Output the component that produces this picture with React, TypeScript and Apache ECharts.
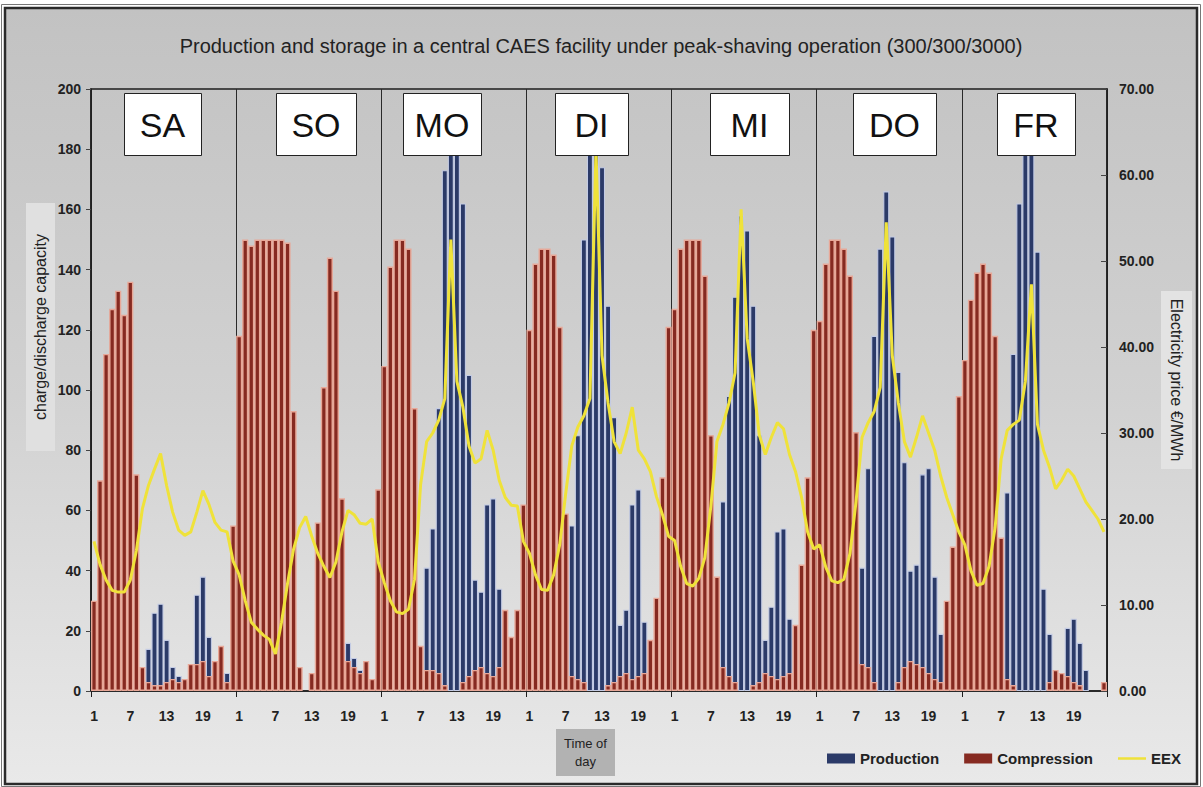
import React, { useEffect, useRef } from "react";
import * as echarts from "echarts";

// ---------- DATA ----------
const days = ["SA", "SO", "MO", "DI", "MI", "DO", "FR"];
const hourLabels = ["1","2","3","4","5","6","7","8","9","10","11","12","13","14","15","16","17","18","19","20","21","22","23","24"];

// Production (charge/discharge capacity units), hourly per day
const productionSA = [0,0,0,0,0,0,0,0,0,14,26,29,17,8,5,3,0,32,38,18,0,0,6,0];
const productionSO = [0,0,0,0,0,0,0,0,0,0,0,0,0,0,0,0,0,0,16,11,7,0,3,0];
const productionMO = [0,0,0,0,0,0,0,41,54,94,173,192,186,162,105,37,33,62,64,34,0,0,0,0];
const productionDI = [0,0,0,0,0,0,0,55,85,150,188,193,174,128,91,22,27,62,67,23,0,0,0,0];
const productionMI = [0,0,0,0,0,0,0,0,63,98,131,158,153,128,85,17,28,53,54,24,0,0,0,0];
const productionDO = [0,0,0,0,0,0,0,41,74,118,147,166,151,106,76,40,42,72,74,38,19,0,0,0];
const productionFR = [0,0,0,0,0,0,0,66,112,162,190,188,146,34,19,0,0,21,24,16,7,0,0,0];

// Compression
const compressionSA = [30,70,112,127,133,125,136,72,8,3,2,2,3,4,3,4,9,9,10,5,10,15,3,55];
const compressionSO = [118,150,148,150,150,150,150,150,149,93,8,0,6,56,101,144,133,64,10,8,6,10,4,67];
const compressionMO = [108,141,150,150,147,94,15,7,7,6,2,0,0,3,5,7,8,6,5,8,27,18,27,62];
const compressionDI = [120,142,147,147,145,121,59,5,4,3,0,0,0,2,3,5,6,4,5,6,17,31,71,121];
const compressionMI = [127,147,150,150,150,138,85,38,8,5,3,0,0,2,3,6,5,4,5,6,22,42,71,120];
const compressionDO = [123,142,150,150,147,138,86,9,8,3,0,0,0,3,8,10,9,8,6,4,3,30,48,98];
const compressionFR = [110,130,139,142,139,118,51,4,2,0,0,0,0,0,3,7,6,5,3,2,0,0,0,3];

// EEX electricity price (EUR/MWh)
const eexSA = [17.4,14.7,12.9,11.7,11.5,11.5,12.9,16.3,21.2,23.9,25.8,27.6,23.9,20.8,18.7,18.1,18.5,20.8,23.3,21.7,19.6,18.7,18.5,15.1];
const eexSO = [13.5,10.5,8,7.2,6.5,6,4.3,8,12.5,16.5,19,20.3,18,16,14.5,13.2,15,18.5,21,20.5,19.5,19.4,20,15];
const eexMO = [12.6,10.5,9.2,9,9.5,13,24,29,30,31.5,34,52.5,36,33,28.5,26.5,27,30.3,28,24.5,22.5,21.6,21.5,17.4];
const eexDI = [16,13.5,11.8,11.7,13.5,17,23,28.5,30.7,32,34,63,39,33.5,29,27.6,30,33,28,27,25.5,22.6,20.5,18];
const eexMI = [17.5,14.5,12.5,12.2,13.1,15.5,21.5,29,31,33.5,37,56,41,36,29.8,27.5,29.5,31.2,30.5,27.5,25.5,22.5,18.5,16.5];
const eexDO = [17,14.4,12.8,12.6,13,16,22,29.5,31.2,32.5,35.3,54.5,39,33.5,29,27.2,29.5,32,30,28,25,22.5,20.5,18.5];
const eexFR = [17,14,12.3,12.5,14.5,19,27,30.3,31,31.5,36,47.3,31,28,26,23.5,24.5,25.8,25,23.5,22,21,20,18.5];

const leftTicks = { min: 0, max: 200, interval: 20 };
const rightTicks = { min: 0, max: 70, interval: 10 };

const production = [...productionSA, ...productionSO, ...productionMO, ...productionDI, ...productionMI, ...productionDO, ...productionFR];
const compression = [...compressionSA, ...compressionSO, ...compressionMO, ...compressionDI, ...compressionMI, ...compressionDO, ...compressionFR];
const eex = [...eexSA, ...eexSO, ...eexMO, ...eexDI, ...eexMI, ...eexDO, ...eexFR];
const categories = days.flatMap((d) => hourLabels.map((h) => d + "-" + h));

// ---------- LAYOUT ----------
const FONT = "'Liberation Sans', Arial, Helvetica, sans-serif";
const dayBoxes = [
  { x: 124, w: 77 },
  { x: 276, w: 80 },
  { x: 403, w: 78 },
  { x: 555, w: 73 },
  { x: 710, w: 79 },
  { x: 853, w: 83 },
  { x: 997, w: 78 },
];

export default function App() {
  const ref = useRef<HTMLDivElement>(null);

  useEffect(() => {
    if (!ref.current) return;
    const chart = echarts.init(ref.current, undefined, { renderer: "svg" });

    const centered = { align: "center", verticalAlign: "middle", textAlign: "center", textVerticalAlign: "middle" };

    const graphics: any[] = [
      {
        type: "rect",
        z: -10,
        shape: { x: 5, y: 8, width: 1192, height: 776 },
        style: {
          fill: new echarts.graphic.LinearGradient(0, 0, 0, 1, [
            { offset: 0, color: "#c2c2c2" },
            { offset: 0.5, color: "#d1d1d1" },
            { offset: 1, color: "#e9e9e9" },
          ]),
          stroke: "#2a2a2a",
          lineWidth: 2.5,
        },
      },
      {
        type: "rect",
        z: -9,
        shape: { x: 1.5, y: 4.5, width: 1199, height: 782 },
        style: { fill: "none", stroke: "#777", lineWidth: 1 },
      },
      {
        type: "text",
        z: 10,
        x: 601,
        y: 46,
        style: {
          text: "Production and storage in a central CAES facility under peak-shaving operation (300/300/3000)",
          fontSize: 20,
          fontFamily: FONT,
          fill: "#222",
          ...centered,
        },
      },
      // left axis name
      {
        type: "rect",
        z: 1,
        shape: { x: 26, y: 203, width: 29, height: 248 },
        style: { fill: "#e0e0e0" },
      },
      {
        type: "text",
        z: 10,
        x: 40.5,
        y: 327,
        rotation: Math.PI / 2,
        style: {
          text: "charge/discharge capacity",
          fontSize: 16,
          fontFamily: FONT,
          fill: "#222",
          ...centered,
        },
      },
      // right axis name
      {
        type: "rect",
        z: 1,
        shape: { x: 1161, y: 291, width: 31, height: 178 },
        style: { fill: "#e3e3e3" },
      },
      {
        type: "text",
        z: 10,
        x: 1176.5,
        y: 380,
        rotation: -Math.PI / 2,
        style: {
          text: "Electricity price €/MWh",
          fontSize: 16,
          fontFamily: FONT,
          fill: "#222",
          ...centered,
        },
      },
      // Time of day
      {
        type: "rect",
        z: 1,
        shape: { x: 556, y: 729, width: 59, height: 47 },
        style: { fill: "#b2b2b2" },
      },
      {
        type: "text",
        z: 10,
        x: 585.5,
        y: 752,
        style: {
          text: "Time of\nday",
          fontSize: 13,
          lineHeight: 18,
          fontFamily: FONT,
          fill: "#222",
          ...centered,
        },
      },
    ];

    days.forEach((d, i) => {
      const b = dayBoxes[i];
      graphics.push({
        type: "rect",
        z: 50,
        shape: { x: b.x + 0.5, y: 93.5, width: b.w, height: 62 },
        style: { fill: "#ffffff", stroke: "#222", lineWidth: 1 },
      });
      graphics.push({
        type: "text",
        z: 51,
        x: b.x + b.w / 2,
        y: 125,
        style: { text: d, fontSize: 34, fontFamily: FONT, fill: "#111", ...centered },
      });
    });

    const dayEdge = (i: number) => i % 24 === 0;

    const option: any = {
      animation: false,
      backgroundColor: "#ffffff",
      textStyle: { fontFamily: FONT },
      grid: {
        left: 91,
        right: 96,
        top: 89,
        bottom: 96,
        show: true,
        borderColor: "#1e1e1e",
        borderWidth: 1.5,
        backgroundColor: "transparent",
      },
      legend: {
        left: 822,
        top: 746,
        itemWidth: 28,
        itemHeight: 10,
        itemGap: 25,
        symbolKeepAspect: true,
        data: [
          { name: "Production", icon: "rect" },
          { name: "Compression", icon: "rect" },
          { name: "EEX", icon: "path://M0,0 L28,0 L28,2.5 L0,2.5 Z" },
        ],
        textStyle: { fontWeight: "bold", fontSize: 15, color: "#222", fontFamily: FONT },
        itemStyle: { borderWidth: 0 },
      },
      graphic: graphics,
      xAxis: {
        type: "category",
        data: categories,
        boundaryGap: true,
        axisLine: { show: true, lineStyle: { color: "#1e1e1e", width: 1.5 } },
        axisTick: { show: true, interval: dayEdge, length: 6, lineStyle: { color: "#1e1e1e" } },
        axisLabel: {
          interval: 5,
          formatter: (v: string) => v.split("-")[1],
          color: "#222",
          fontWeight: "bold",
          fontSize: 14,
          margin: 18,
          fontFamily: FONT,
        },
        splitLine: { show: true, interval: dayEdge, lineStyle: { color: "#2a2a2a", width: 1 } },
      },
      yAxis: [
        {
          type: "value",
          position: "left",
          min: leftTicks.min,
          max: leftTicks.max,
          interval: leftTicks.interval,
          axisLine: { show: true, lineStyle: { color: "#1e1e1e", width: 1.5 } },
          axisTick: { show: true, length: 5, lineStyle: { color: "#444" } },
          axisLabel: { color: "#222", fontWeight: "bold", fontSize: 14, margin: 10, fontFamily: FONT },
          splitLine: { show: false },
        },
        {
          type: "value",
          position: "right",
          min: rightTicks.min,
          max: rightTicks.max,
          interval: rightTicks.interval,
          axisLine: { show: true, lineStyle: { color: "#1e1e1e", width: 1.5 } },
          axisTick: { show: true, inside: true, length: 6, lineStyle: { color: "#444" } },
          axisLabel: {
            color: "#222",
            fontWeight: "bold",
            fontSize: 14,
            margin: 12,
            fontFamily: FONT,
            formatter: (v: number) => v.toFixed(2),
          },
          splitLine: { show: false },
        },
      ],
      series: [
        {
          name: "Production",
          type: "bar",
          data: production.map((v) => (v === 0 ? null : v)),
          barGap: "-100%",
          barCategoryGap: "0%",
          itemStyle: { color: "#2b3a68", borderColor: "#c3cbe4", borderWidth: 1.1 },
          z: 2,
        },
        {
          name: "Compression",
          type: "bar",
          data: compression.map((v) => (v === 0 ? null : v)),
          barGap: "-100%",
          barCategoryGap: "0%",
          itemStyle: { color: "#862a21", borderColor: "#e8a797", borderWidth: 1.4 },
          z: 2,
        },
        {
          name: "EEX",
          type: "line",
          yAxisIndex: 1,
          data: eex,
          symbol: "none",
          lineStyle: { color: "#efe23a", width: 3 },
          itemStyle: { color: "#efe23a" },
          z: 4,
        },
      ],
    };

    chart.setOption(option);
    return () => chart.dispose();
  }, []);

  return (
    <div
      ref={ref}
      style={{ position: "absolute", left: 0, top: 0, width: 1203, height: 787 }}
    />
  );
}
